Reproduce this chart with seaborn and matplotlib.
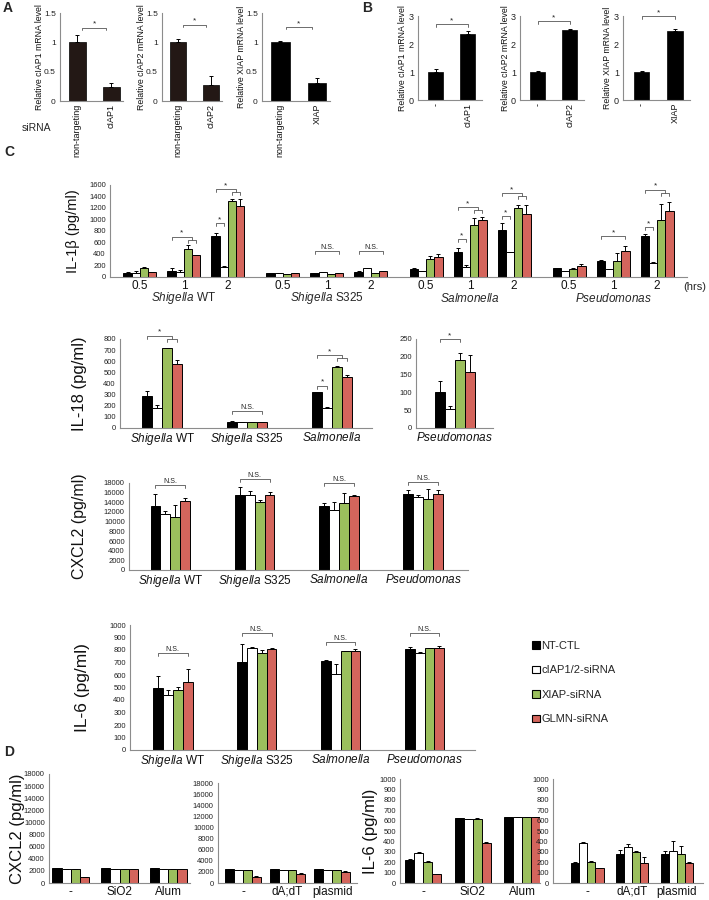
import matplotlib
matplotlib.use('Agg')
import matplotlib.pyplot as plt
import seaborn as sns
import numpy as np
import pandas as pd
from matplotlib.patches import Patch
from matplotlib.ticker import FormatStrFormatter

W, H = 709, 900

# ---------------- data ----------------
conditions = ['NT-CTL', 'cIAP1/2-siRNA', 'XIAP-siRNA', 'GLMN-siRNA']
cond_colors = ['#000000', '#ffffff', '#9bbf5d', '#d4655c']
species = [r'$\it{Shigella}$ WT', r'$\it{Shigella}$ S325', r'$\it{Salmonella}$', r'$\it{Pseudomonas}$']
hours = ['0.5', '1', '2']

# panel A (knockdown) / panel B (overexpression)
a_labels = [['non-targeting', 'cIAP1'], ['non-targeting', 'cIAP2'], ['non-targeting', 'XIAP']]
a_ylabels = ['Relative cIAP1 mRNA level', 'Relative cIAP2 mRNA level', 'Relative XIAP mRNA level']
a_mean = [[1.0, 0.24], [1.0, 0.28], [1.0, 0.30]]
a_sd = [[0.13, 0.07], [0.05, 0.14], [0.03, 0.10]]
b_labels = [['-', 'cIAP1'], ['-', 'cIAP2'], ['-', 'XIAP']]
b_mean = [[1.0, 2.35], [1.0, 2.5], [1.0, 2.45]]
b_sd = [[0.1, 0.1], [0.05, 0.02], [0.04, 0.07]]

# IL-1beta, 4 species x 3 time points
il1b_ntctl = [70, 110, 710, 70, 70, 95, 145, 430, 810, 155, 285, 705]
il1b_ciap = [75, 85, 180, 70, 80, 150, 100, 175, 430, 100, 140, 245]
il1b_xiap = [165, 480, 1320, 55, 55, 70, 310, 910, 1200, 145, 270, 985]
il1b_glmn = [80, 380, 1240, 65, 65, 100, 340, 995, 1090, 185, 445, 1150]
il1b_ntctl_sd = [10, 40, 60, 8, 8, 10, 15, 70, 135, 10, 8, 40]
il1b_ciap_sd = [25, 45, 15, 5, 8, 10, 10, 40, 10, 5, 5, 8]
il1b_xiap_sd = [8, 80, 40, 5, 5, 8, 60, 115, 50, 10, 155, 290]
il1b_glmn_sd = [10, 8, 110, 5, 5, 10, 60, 40, 165, 35, 100, 150]

il18_ntctl = [285, 52, 320, 100]
il18_ciap = [180, 50, 180, 52]
il18_xiap = [720, 52, 550, 190]
il18_glmn = [572, 55, 455, 158]
il18_ntctl_sd = [45, 8, 2, 33]
il18_ciap_sd = [30, 3, 8, 10]
il18_xiap_sd = [2, 2, 10, 22]
il18_glmn_sd = [40, 3, 18, 47]

cxcl2_ntctl = [13200, 15500, 13200, 15800]
cxcl2_ciap = [11500, 15600, 12500, 15000]
cxcl2_xiap = [11000, 14100, 13900, 14600]
cxcl2_glmn = [14300, 15600, 15300, 15800]
cxcl2_ntctl_sd = [2600, 1600, 700, 850]
cxcl2_ciap_sd = [700, 750, 1500, 600]
cxcl2_xiap_sd = [2400, 350, 2100, 2100]
cxcl2_glmn_sd = [500, 550, 150, 700]

il6_ntctl = [500, 705, 710, 810]
il6_ciap = [440, 820, 610, 775]
il6_xiap = [480, 780, 790, 815]
il6_glmn = [545, 805, 790, 820]
il6_ntctl_sd = [90, 140, 10, 15]
il6_ciap_sd = [40, 5, 80, 10]
il6_xiap_sd = [25, 20, 3, 5]
il6_glmn_sd = [100, 8, 15, 10]

# panel D
stim_particle = ['-', 'SiO2', 'Alum']
stim_dna = ['-', 'dA;dT', 'plasmid']
d_cxcl2_part = [[2400, 2400, 2400], [2350, 2350, 2350], [2350, 2350, 2350], [950, 2250, 2350]]
d_cxcl2_part_sd = [[40, 40, 40], [30, 30, 30], [30, 30, 30], [80, 60, 40]]
d_cxcl2_dna = [[2500, 2500, 2500], [2400, 2400, 2400], [2400, 2400, 2400], [1150, 1650, 2000]]
d_cxcl2_dna_sd = [[40, 40, 40], [30, 30, 30], [30, 30, 30], [120, 150, 100]]
d_il6_part = [[220, 625, 632], [290, 615, 630], [205, 620, 632], [88, 380, 632]]
d_il6_part_sd = [[10, 3, 3], [8, 5, 3], [5, 5, 3], [3, 10, 3]]
d_il6_dna = [[190, 275, 280], [385, 350, 310], [205, 300, 275], [140, 190, 190]]
d_il6_dna_sd = [[15, 45, 30], [5, 25, 95], [5, 5, 85], [5, 60, 8]]

# ---------------- style ----------------
sns.set_theme(style='white')
plt.rcParams['font.family'] = ['Liberation Sans', 'DejaVu Sans']
plt.rcParams['mathtext.fontset'] = 'custom'
plt.rcParams['mathtext.rm'] = 'Liberation Sans'
plt.rcParams['mathtext.it'] = 'Liberation Sans:italic'

fig = plt.figure(figsize=(W / 100, H / 100), dpi=100)


def px_axes(l, t, r, b):
    ax = fig.add_axes([l / W, 1 - b / H, (r - l) / W, (b - t) / H])
    ax.px = (l, r)
    return ax


def style_ax(ax, ymax, ystep, fs=5.5, fmt='%g'):
    sns.despine(ax=ax)
    ax.set_ylim(0, ymax)
    ax.set_yticks(np.arange(0, ymax + ystep / 2, ystep))
    ax.yaxis.set_major_formatter(FormatStrFormatter(fmt))
    for s in ['left', 'bottom']:
        ax.spines[s].set_color('#8c8c8c')
        ax.spines[s].set_linewidth(0.8)
    ax.tick_params(axis='y', length=2, width=0.6, color='#8c8c8c', labelsize=fs, pad=1, labelcolor='#222')
    ax.tick_params(axis='x', length=0, pad=2, labelcolor='#111')
    ax.set_xlabel('')
    ax.set_ylabel('')


def ylabel_px(ax, text, right_px, fs):
    l, r = ax.px
    ax.set_ylabel(text, fontsize=fs, color='#111')
    ax.yaxis.set_label_coords((right_px - l) / (r - l), 0.5)


def add_err(ax, conts, sds):
    centers = []
    for cont, sd in zip(conts, sds):
        bars = sorted(cont, key=lambda b: b.get_x())
        xc = [b.get_x() + b.get_width() / 2 for b in bars]
        hts = [b.get_height() for b in bars]
        ax.errorbar(xc, hts, yerr=[np.zeros(len(sd)), sd], fmt='none', ecolor='black',
                    elinewidth=0.7, capsize=1.6, capthick=0.7)
        centers.append(xc)
    return centers


def grouped_bars(ax, cats, means, sds, width, native=False):
    rows = []
    for cond, m in zip(conditions, means):
        for c, v in zip(cats, m):
            rows.append({'x': c, 'cond': cond, 'value': v})
    df = pd.DataFrame(rows)
    kw = dict(native_scale=True) if native else dict(order=cats)
    sns.barplot(data=df, x='x', y='value', hue='cond', hue_order=conditions,
                palette=dict(zip(conditions, cond_colors)), saturation=1, errorbar=None,
                width=width, edgecolor='black', linewidth=0.7, legend=False, ax=ax, **kw)
    conts = list(ax.containers)
    return add_err(ax, conts, sds)


def simple_bars(ax, cats, mean, sd, color, width=0.5):
    df = pd.DataFrame({'x': cats, 'value': mean})
    sns.barplot(data=df, x='x', y='value', order=cats, color=color, saturation=1,
                errorbar=None, width=width, edgecolor='black', linewidth=0.5, ax=ax)
    return add_err(ax, list(ax.containers), [sd])[0]


def bracket(ax, x1, x2, y, leg, text, fs=6, right_leg=None):
    rl = leg if right_leg is None else right_leg
    ax.plot([x1, x1, x2, x2], [y - leg, y, y, y - rl], color='#555', lw=0.6, clip_on=False)
    if text:
        ax.text((x1 + x2) / 2, y, text, ha='center', va='bottom', fontsize=fs,
                color='#222', clip_on=False)


def nested(ax, cx, g, y_in, y_out, leg):
    xb, xg, xr = cx[0][g], cx[2][g], cx[3][g]
    bracket(ax, xg, xr, y_in, leg, '')
    bracket(ax, xb, (xg + xr) / 2, y_out, leg, '*', right_leg=y_out - y_in)


def pair(ax, cx, g, y, leg):
    bracket(ax, cx[0][g], cx[1][g], y, leg, '*')


def ns(ax, cx, g, y, leg):
    bracket(ax, cx[0][g], cx[3][g], y, leg, 'N.S.', fs=5)


# ---------------- panel A / B ----------------
a_boxes = [(60, 13, 123, 101), (162, 13, 222, 101), (262, 13, 330, 101)]
a_ylab_x = [44, 146, 246]
a_colors = ['#231815', '#231815', '#000000']
a_br = [1.25, 1.30, 1.26]
for i in range(3):
    ax = px_axes(*a_boxes[i])
    cx = simple_bars(ax, a_labels[i], a_mean[i], a_sd[i], a_colors[i])
    style_ax(ax, 1.5, 0.5, fs=6)
    ax.set_xlim(-0.5, 1.35)
    ax.tick_params(axis='x', labelrotation=90, labelsize=6.5)
    ylabel_px(ax, a_ylabels[i], a_ylab_x[i], 6.3)
    bracket(ax, cx[0] + 0.15, cx[1] - 0.15, a_br[i], 0.04, '*')

b_boxes = [(418, 16, 482, 100), (520, 16, 584, 100), (623, 16, 690, 100)]
b_ylab_x = [407, 510, 612]
b_br = [2.71, 2.82, 3.0]
for i in range(3):
    ax = px_axes(*b_boxes[i])
    cx = simple_bars(ax, b_labels[i], b_mean[i], b_sd[i], '#000000', width=0.47)
    style_ax(ax, 3, 1, fs=6.5)
    ax.set_xlim(-0.56, 1.45)
    ax.tick_params(axis='x', labelrotation=90, labelsize=6.5)
    ylabel_px(ax, a_ylabels[i], b_ylab_x[i], 6.3)
    bracket(ax, cx[0], cx[1], b_br[i], 0.1, '*')

fig.text(22 / W, 1 - 128 / H, 'siRNA', fontsize=7.5, va='center')

# ---------------- panel C: IL-1beta ----------------
ax = px_axes(110, 185, 687, 277)
pos = [s * 3.25 + t for s in range(4) for t in range(3)]
cx = grouped_bars(ax, pos,
                  [il1b_ntctl, il1b_ciap, il1b_xiap, il1b_glmn],
                  [il1b_ntctl_sd, il1b_ciap_sd, il1b_xiap_sd, il1b_glmn_sd], 0.75, native=True)
style_ax(ax, 1600, 200)
ax.set_xlim(-0.68, 12.43)
ax.set_xticks(pos)
ax.set_xticklabels(hours * 4, fontsize=8.5)
ylabel_px(ax, 'IL-1β (pg/ml)', 80, 10.5)
for s in range(4):
    ax.text(s * 3.25 + 1, -0.23, species[s], transform=ax.get_xaxis_transform(),
            ha='center', va='center', fontsize=8.5)
fig.text(695 / W, 1 - 287 / H, '(hrs)', fontsize=8, ha='center', va='center')
lg = 50
nested(ax, cx, 1, 640, 700, lg)
pair(ax, cx, 2, 935, lg)
nested(ax, cx, 2, 1470, 1525, lg)
ns(ax, cx, 4, 445, lg)
ns(ax, cx, 5, 445, lg)
pair(ax, cx, 7, 660, lg)
nested(ax, cx, 7, 1165, 1215, lg)
pair(ax, cx, 8, 1060, lg)
nested(ax, cx, 8, 1410, 1455, lg)
bracket(ax, cx[0][10], cx[3][10], 705, lg, '*')
pair(ax, cx, 11, 865, lg)
nested(ax, cx, 11, 1465, 1515, lg)

# ---------------- IL-18 ----------------
il18_means = [il18_ntctl, il18_ciap, il18_xiap, il18_glmn]
il18_sds = [il18_ntctl_sd, il18_ciap_sd, il18_xiap_sd, il18_glmn_sd]
ax = px_axes(120, 339, 372, 428)
cx = grouped_bars(ax, species[:3], [m[:3] for m in il18_means], [s[:3] for s in il18_sds], 0.47)
style_ax(ax, 800, 100)
ax.set_xlim(-0.5, 2.47)
ax.tick_params(axis='x', labelsize=8.5)
ylabel_px(ax, 'IL-18 (pg/ml)', 87, 12)
nested(ax, cx, 0, 800, 830, 27)
ns(ax, cx, 1, 150, 27)
pair(ax, cx, 2, 380, 27)
nested(ax, cx, 2, 625, 655, 27)

ax = px_axes(416, 339, 493, 428)
cx = grouped_bars(ax, species[3:], [m[3:] for m in il18_means], [s[3:] for s in il18_sds], 0.47)
style_ax(ax, 250, 50)
ax.set_xlim(-0.46, 0.45)
ax.tick_params(axis='x', labelsize=8.5)
bracket(ax, cx[0][0], cx[2][0], 250, 8, '*')

# ---------------- CXCL2 ----------------
ax = px_axes(129, 483, 468, 570)
cx = grouped_bars(ax, species, [cxcl2_ntctl, cxcl2_ciap, cxcl2_xiap, cxcl2_glmn],
                  [cxcl2_ntctl_sd, cxcl2_ciap_sd, cxcl2_xiap_sd, cxcl2_glmn_sd], 0.47)
style_ax(ax, 18000, 2000)
ax.set_xlim(-0.49, 3.53)
ax.tick_params(axis='x', labelsize=8.5)
ylabel_px(ax, 'CXCL2 (pg/ml)', 87, 11.5)
for g, y in enumerate([17500, 18900, 18000, 18200]):
    ns(ax, cx, g, y, 600)

# ---------------- IL-6 ----------------
ax = px_axes(130, 625, 475, 750)
cx = grouped_bars(ax, species, [il6_ntctl, il6_ciap, il6_xiap, il6_glmn],
                  [il6_ntctl_sd, il6_ciap_sd, il6_xiap_sd, il6_glmn_sd], 0.47)
style_ax(ax, 1000, 100)
ax.set_xlim(-0.51, 3.6)
ax.tick_params(axis='x', labelsize=8.5)
ylabel_px(ax, 'IL-6 (pg/ml)', 90, 12.5)
for g, y in enumerate([775, 935, 865, 935]):
    ns(ax, cx, g, y, 25)

handles = [Patch(facecolor=c, edgecolor='black', linewidth=0.8) for c in cond_colors]
fig.legend(handles, conditions, loc='upper left', bbox_to_anchor=(532 / W, 1 - 641 / H),
           frameon=False, fontsize=8, handlelength=0.7, handleheight=0.7,
           handletextpad=0.15, labelspacing=1.3, borderaxespad=0, borderpad=0)

# ---------------- panel D ----------------
ax = px_axes(49, 774, 190, 883)
grouped_bars(ax, stim_particle, d_cxcl2_part, d_cxcl2_part_sd, 0.76)
style_ax(ax, 18000, 2000)
ax.set_xlim(-0.45, 2.45)
ax.tick_params(axis='x', labelsize=8.5)
ylabel_px(ax, 'CXCL2 (pg/ml)', 25, 12)

ax = px_axes(218, 783, 357, 883)
grouped_bars(ax, stim_dna, d_cxcl2_dna, d_cxcl2_dna_sd, 0.8)
style_ax(ax, 18000, 2000)
ax.set_xlim(-0.56, 2.56)
ax.tick_params(axis='x', labelsize=8.5)

ax = px_axes(400, 779, 540, 883)
grouped_bars(ax, stim_particle, d_il6_part, d_il6_part_sd, 0.72)
style_ax(ax, 1000, 100)
ax.set_xlim(-0.47, 2.36)
ax.tick_params(axis='x', labelsize=8.5)
ylabel_px(ax, 'IL-6 (pg/ml)', 378, 12)

ax = px_axes(553, 779, 703, 883)
grouped_bars(ax, stim_dna, d_il6_dna, d_il6_dna_sd, 0.73)
style_ax(ax, 1000, 100)
ax.set_xlim(-0.76, 2.58)
ax.tick_params(axis='x', labelsize=8.5)

# panel letters
for letter, x, y in [('A', 3, 8), ('B', 362, 8), ('C', 4, 152), ('D', 4, 752)]:
    fig.text(x / W, 1 - y / H, letter, fontsize=10, fontweight='bold', va='center')

fig.savefig('out.png', dpi=100)
